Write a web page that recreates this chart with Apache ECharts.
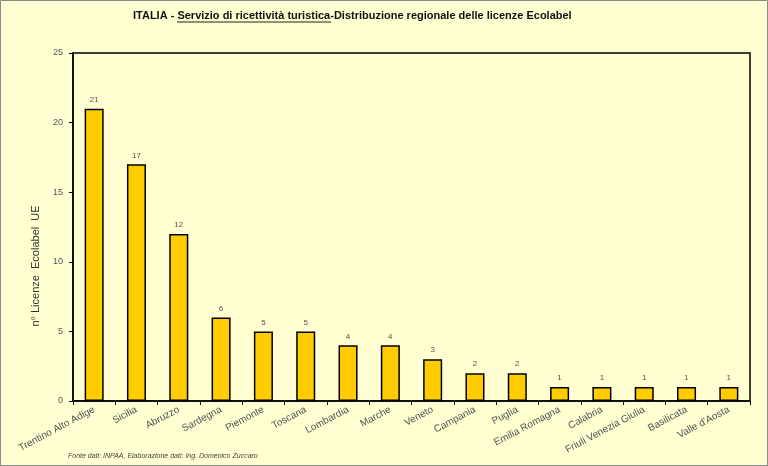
<!DOCTYPE html>
<html>
<head>
<meta charset="utf-8">
<script src="https://cdn.jsdelivr.net/npm/echarts@6/dist/echarts.min.js"></script>
<style>
  html, body { margin: 0; padding: 0; background: #ffffd2; }
  #main { width: 768px; height: 466px; }
</style>
</head>
<body>
<div id="main"></div>
<script>
var regions = ['Trentino Alto Adige', 'Sicilia', 'Abruzzo', 'Sardegna', 'Piemonte', 'Toscana',
  'Lombardia', 'Marche', 'Veneto', 'Campania', 'Puglia', 'Emilia Romagna', 'Calabria',
  'Friuli Venezia Giulia', 'Basilicata', "Valle d'Aosta"];
var licenze = [21, 17, 12, 6, 5, 5, 4, 4, 3, 2, 2, 1, 1, 1, 1, 1];
var yTicks = [0, 5, 10, 15, 20, 25];

var chartDom = document.getElementById('main');
var myChart = echarts.init(chartDom);
var option;

option = {
  backgroundColor: '#ffffd2',
  animation: false,
  grid: {
    left: 73, right: 18, top: 53, bottom: 65,
    show: true,
    borderColor: '#000',
    borderWidth: 1.5,
    backgroundColor: 'transparent'
  },
  graphic: [
    { type: 'rect', shape: { x: 0.5, y: 0.5, width: 767, height: 465 },
      style: { fill: 'none', stroke: '#8a8a8a', lineWidth: 1 } },
    { type: 'text', left: 133, top: 10,
      style: { text: 'ITALIA - Servizio di ricettività turistica-Distribuzione regionale delle licenze Ecolabel',
        font: 'bold 11px "Liberation Sans", Arial', fill: '#111' } },
    // underline of "Servizio di ricettività turistica"
    { type: 'line', shape: { x1: 177, y1: 22, x2: 331, y2: 22 },
      style: { stroke: '#222', lineWidth: 1 } },
    { type: 'text', x: 36, y: 266, rotation: Math.PI / 2, originX: 0, originY: 0,
      style: { text: 'n° Licenze  Ecolabel  UE', font: '11px "Liberation Sans", Arial',
        fill: '#333', align: 'center', verticalAlign: 'middle' } },
    { type: 'text', left: 68, top: 453,
      style: { text: 'Fonte dati: INPAA, Elaborazione dati: Ing. Domenico Zuccaro',
        font: 'italic 7px "Liberation Sans", Arial', fill: '#444' } }
  ],
  xAxis: {
    type: 'category',
    data: regions,
    axisLine: { lineStyle: { color: '#000', width: 1.5 } },
    axisTick: { show: true, inside: false, length: 4, lineStyle: { color: '#000' } },
    axisLabel: { rotate: 28, fontSize: 10, color: '#555', margin: 8, interval: 0,
      fontFamily: 'Liberation Sans' }
  },
  yAxis: {
    type: 'value',
    min: yTicks[0], max: yTicks[yTicks.length - 1], interval: 5,
    splitLine: { show: false },
    axisLine: { show: true, lineStyle: { color: '#000', width: 1.5 } },
    axisTick: { show: true, length: 4, lineStyle: { color: '#000' } },
    axisLabel: { fontSize: 9, color: '#555', margin: 10, fontFamily: 'Liberation Sans' }
  },
  series: [{
    type: 'bar',
    data: licenze,
    barWidth: '45%',
    itemStyle: { color: '#ffcc00', borderColor: '#000', borderWidth: 1.5 },
    label: { show: true, position: 'top', fontSize: 8, color: '#555', distance: 5,
      fontFamily: 'Liberation Sans' }
  }]
};
option && myChart.setOption(option);
</script>
</body>
</html>
